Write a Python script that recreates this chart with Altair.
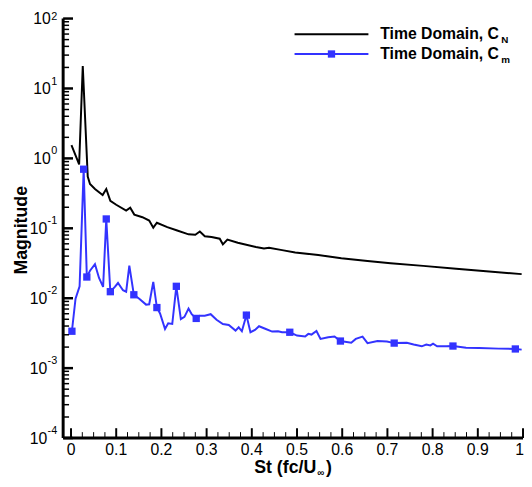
import altair as alt
import pandas as pd

FONT = "Liberation Sans"
BLUE = "#3333ff"

# ---- data ----
st_cn = [0.001, 0.018, 0.026, 0.037, 0.042, 0.053, 0.070, 0.078, 0.087, 0.100,
         0.122, 0.131, 0.140, 0.158, 0.173, 0.182, 0.190, 0.213, 0.235, 0.260,
         0.275, 0.285, 0.296, 0.311, 0.329, 0.336, 0.346, 0.369, 0.409, 0.427,
         0.438, 0.467, 0.496, 0.547, 0.598, 0.656, 0.707, 0.779, 0.852, 0.925, 0.997]
mag_cn = [1.55, 0.82, 21.0, 0.55, 0.43, 0.365, 0.30, 0.365, 0.247, 0.217,
          0.179, 0.197, 0.157, 0.144, 0.129, 0.102, 0.120, 0.104, 0.093, 0.082,
          0.081, 0.090, 0.077, 0.075, 0.071, 0.059, 0.069, 0.062, 0.054, 0.0515,
          0.0525, 0.0487, 0.0452, 0.0414, 0.0372, 0.0341, 0.0316, 0.029, 0.0263, 0.0241, 0.0221]

st_cm = [0.002, 0.010, 0.019, 0.028, 0.035, 0.042, 0.053, 0.062, 0.071, 0.078,
         0.087, 0.097, 0.104, 0.115, 0.122, 0.129, 0.139, 0.151, 0.166, 0.173,
         0.182, 0.190, 0.197, 0.208, 0.215, 0.224, 0.233, 0.243, 0.251, 0.260,
         0.267, 0.277, 0.285, 0.296, 0.309, 0.322, 0.336, 0.349, 0.364, 0.371,
         0.378, 0.388, 0.397, 0.407, 0.416, 0.431, 0.445, 0.458, 0.467, 0.484,
         0.500, 0.518, 0.525, 0.532, 0.543, 0.552, 0.569, 0.583, 0.596, 0.620,
         0.630, 0.645, 0.656, 0.678, 0.699, 0.715, 0.743, 0.758, 0.776, 0.786,
         0.795, 0.801, 0.810, 0.830, 0.845, 0.874, 0.903, 0.946, 0.983, 0.997]
mag_cm = [0.00337, 0.00984, 0.0148, 0.70, 0.0201, 0.0247, 0.0306, 0.0195, 0.0145, 0.136,
          0.0124, 0.0145, 0.0165, 0.0130, 0.0124, 0.0293, 0.0112, 0.00984, 0.0081, 0.0082,
          0.0171, 0.00735, 0.00605, 0.00363, 0.00437, 0.00428, 0.0148, 0.00502, 0.00542, 0.00711,
          0.00591, 0.00514, 0.0056, 0.0056, 0.00591, 0.00491, 0.00428, 0.00414, 0.00344, 0.00384,
          0.00337, 0.00573, 0.00326, 0.00352, 0.00397, 0.00363, 0.00333, 0.00337, 0.00326, 0.00326,
          0.00292, 0.00283, 0.00309, 0.00302, 0.0034, 0.00262, 0.00277, 0.00283, 0.00244, 0.00231,
          0.00262, 0.00283, 0.00228, 0.00244, 0.0024, 0.00228, 0.00231, 0.00218, 0.00205, 0.00218,
          0.00211, 0.00223, 0.00205, 0.00205, 0.00207, 0.00196, 0.00194, 0.0019, 0.00188, 0.00184]
cm_marker_idx = [0, 3, 4, 9, 10, 16, 21, 26, 31, 41, 49, 58, 65, 74, 78]

x_major = [0, 0.1, 0.2, 0.3, 0.4, 0.5, 0.6, 0.7, 0.8, 0.9, 1]
x_labels = ["0", "0.1", "0.2", "0.3", "0.4", "0.5", "0.6", "0.7", "0.8", "0.9", "1"]
x_minor = [round(i * 0.025, 3) for i in range(41) if i % 4]
y_major = [1e2, 1e1, 1e0, 1e-1, 1e-2, 1e-3, 1e-4]
y_exp = ["2", "1", "0", "-1", "-2", "-3", "-4"]
y_minor = [m * 10.0 ** k for k in range(-4, 2) for m in range(2, 10)]

W, H = 467, 426
X0, X1 = -0.0174, 1.0
PX = (X1 - X0) / W  # data units per pixel along x (tick lengths)

xs = alt.Scale(domain=[X0, X1], nice=False, zero=False)
ys = alt.Scale(type="log", domain=[1e-4, 100], nice=False)

cn = pd.DataFrame({"st": st_cn, "mag": mag_cn})
cm = pd.DataFrame({"st": st_cm, "mag": mag_cm})
cm_pts = cm.iloc[cm_marker_idx]

line_cn = alt.Chart(cn).mark_line(color="black", strokeWidth=2).encode(
    x=alt.X("st:Q", scale=xs, axis=None),
    y=alt.Y("mag:Q", scale=ys, axis=None),
)
line_cm = alt.Chart(cm).mark_line(color=BLUE, strokeWidth=2).encode(
    x=alt.X("st:Q", scale=xs, axis=None),
    y=alt.Y("mag:Q", scale=ys, axis=None),
)
pts_cm = alt.Chart(cm_pts).mark_point(shape="square", filled=True, size=55, color=BLUE, opacity=1).encode(
    x=alt.X("st:Q", scale=xs, axis=None),
    y=alt.Y("mag:Q", scale=ys, axis=None),
)

# axis lines (left and bottom)
left_axis = alt.Chart(pd.DataFrame({"ax": [X0, X0], "ay": [1e-4, 1e2]})).mark_line(
    color="black", strokeWidth=3).encode(
    x=alt.X("ax:Q", scale=xs, axis=None), y=alt.Y("ay:Q", scale=ys, axis=None))
bottom_axis = alt.Chart(pd.DataFrame({"ax": [X0, X1], "ay": [1e-4, 1e-4]})).mark_line(
    color="black", strokeWidth=3).encode(
    x=alt.X("ax:Q", scale=xs, axis=None), y=alt.Y("ay:Q", scale=ys, axis=None))

# x ticks (inward)
xmaj_t = alt.Chart(pd.DataFrame({"xt": x_major})).mark_rule(color="black", strokeWidth=2).encode(
    x=alt.X("xt:Q", scale=xs, axis=None), y=alt.value(H), y2=alt.value(H - 10))
xmin_t = alt.Chart(pd.DataFrame({"xt": x_minor})).mark_rule(color="black", strokeWidth=1).encode(
    x=alt.X("xt:Q", scale=xs, axis=None), y=alt.value(H), y2=alt.value(H - 6))


# y ticks (inward) as short two-point lines
def ytick_df(vals, length_px):
    rows = []
    for i, v in enumerate(vals):
        rows.append({"tid": i, "tx": X0, "ty": v})
        rows.append({"tid": i, "tx": X0 + length_px * PX, "ty": v})
    return pd.DataFrame(rows)


ymaj_t = alt.Chart(ytick_df(y_major, 10)).mark_line(color="black", strokeWidth=2.5).encode(
    x=alt.X("tx:Q", scale=xs, axis=None), y=alt.Y("ty:Q", scale=ys, axis=None),
    detail="tid:N")
ymin_t = alt.Chart(ytick_df(y_minor, 6)).mark_line(color="black", strokeWidth=1.5).encode(
    x=alt.X("tx:Q", scale=xs, axis=None), y=alt.Y("ty:Q", scale=ys, axis=None),
    detail="tid:N")

# x tick labels
xlab_df = pd.DataFrame({"xt": x_major, "lab": x_labels})
xlab = alt.Chart(xlab_df).transform_filter("datum.xt < 1").mark_text(
    font=FONT, fontSize=16, align="center", baseline="middle", color="black").encode(
    x=alt.X("xt:Q", scale=xs, axis=None), y=alt.value(H + 12), text="lab:N")
xlab_end = alt.Chart(xlab_df).transform_filter("datum.xt >= 1").mark_text(
    font=FONT, fontSize=16, align="right", baseline="middle", color="black", dx=1).encode(
    x=alt.X("xt:Q", scale=xs, axis=None), y=alt.value(H + 12), text="lab:N")

# y tick labels 10^k
ylab_df = pd.DataFrame({"yt": y_major, "e": y_exp})
ylab_pos = alt.Chart(ylab_df).transform_filter("indexof(datum.e, '-') < 0").mark_text(
    font=FONT, fontSize=16, align="right", baseline="middle", color="black", dy=1).encode(
    x=alt.value(-12.5), y=alt.Y("yt:Q", scale=ys, axis=None), text=alt.value("10"))
ylab_neg = alt.Chart(ylab_df).transform_filter("indexof(datum.e, '-') >= 0").mark_text(
    font=FONT, fontSize=16, align="right", baseline="middle", color="black", dy=1).encode(
    x=alt.value(-16), y=alt.Y("yt:Q", scale=ys, axis=None), text=alt.value("10"))
yexp_top = alt.Chart(ylab_df).transform_filter("datum.yt >= 100").mark_text(
    font=FONT, fontSize=11, align="right", baseline="middle", color="black", dy=-2).encode(
    x=alt.value(-6), y=alt.Y("yt:Q", scale=ys, axis=None), text="e:N")
yexp_rest = alt.Chart(ylab_df).transform_filter("datum.yt < 100").mark_text(
    font=FONT, fontSize=11, align="right", baseline="middle", color="black", dy=-7).encode(
    x=alt.value(-6), y=alt.Y("yt:Q", scale=ys, axis=None), text="e:N")


def txt(s, x, y, size, bold=True, align="left", angle=None):
    kw = dict(font=FONT, fontSize=size, fontWeight="bold" if bold else "normal",
              align=align, baseline="middle", color="black")
    if angle is not None:
        kw["angle"] = angle
    return alt.Chart(pd.DataFrame({"s": [s]})).mark_text(**kw).encode(
        text="s:N", x=alt.value(x), y=alt.value(y))


# axis titles
ytitle = txt("Magnitude", -42, 215, 18, angle=270, align="center")
xt1 = txt("St (fc/U", 257, 456, 18, align="right")
xt2 = txt("\u221e", 258, 462, 10, align="left")
xt3 = txt(")", 267, 456, 18, align="left")

# legend
leg_l1 = alt.Chart(pd.DataFrame({"a": [0]})).mark_rule(color="black", strokeWidth=2).encode(
    x=alt.value(235), x2=alt.value(310), y=alt.value(16))
leg_l2 = alt.Chart(pd.DataFrame({"a": [0]})).mark_rule(color=BLUE, strokeWidth=2).encode(
    x=alt.value(235), x2=alt.value(310), y=alt.value(36))
leg_p2 = alt.Chart(pd.DataFrame({"a": [0]})).mark_point(shape="square", filled=True, size=55,
                                                      color=BLUE, opacity=1).encode(
    x=alt.value(272.5), y=alt.value(36))
leg_t1 = txt("Time Domain, C", 322, 16, 16)
leg_s1 = txt("N", 445, 22, 10)
leg_t2 = txt("Time Domain, C", 322, 36, 16)
leg_s2 = txt("m", 445, 42, 10)

chart = alt.layer(
    line_cn, line_cm, pts_cm, left_axis, bottom_axis, xmaj_t, xmin_t, ymaj_t, ymin_t,
    xlab, xlab_end, ylab_pos, ylab_neg, yexp_top, yexp_rest,
    ytitle, xt1, xt2, xt3, leg_l1, leg_l2, leg_p2, leg_t1, leg_s1, leg_t2, leg_s2,
).properties(
    width=W, height=H,
    autosize=alt.AutoSizeParams(type="none"),
    padding={"left": 56, "top": 7, "right": 1, "bottom": 46},
    background="white",
).configure_view(stroke=None)

chart.save("out.html", embed_options={"renderer": "svg", "actions": False})
